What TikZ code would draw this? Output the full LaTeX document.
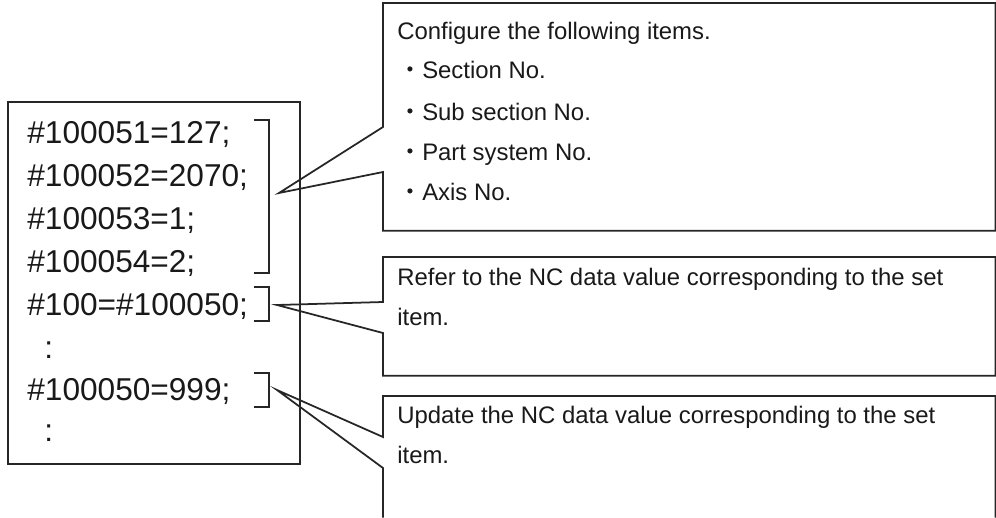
\documentclass[tikz,border=0pt]{standalone}
\usepackage{fontspec}
\setmainfont{Liberation Sans}
\newfontfamily\cjkfont{Noto Sans CJK JP}
\newcommand{\dotmark}{{\cjkfont ・}}
\usepackage{tikz}
\usetikzlibrary{positioning, calc}

\begin{document}
\begin{tikzpicture}[
        x=0.02cm, y=-0.02cm,
        code_box/.style={rectangle, draw=black!85, line width=1.1pt, inner sep=0pt,
                         anchor=north west, minimum width=5.84cm, minimum height=7.24cm},
        call_frame/.style={rectangle, draw=none, inner sep=0pt, anchor=north west, minimum width=12.24cm},
        call_line/.style={draw=black!85, line width=1pt, line join=miter},
        bracket_line/.style={draw=black!85, line width=1pt},
        code_txt/.style={anchor=base west, inner sep=0pt, font=\fontsize{18}{22}\selectfont, text=black!90},
        note_txt/.style={anchor=base west, inner sep=0pt, font=\fontsize{13.6}{16}\selectfont, text=black!90}
    ]
    \useasboundingbox (0,0) rectangle (996,517);

    \node[code_box] (prog) at (7,101) {};
    \node[code_txt] (l1) at (27,143) {\#100051=127;};
    \node[code_txt] (l2) at (27,186) {\#100052=2070;};
    \node[code_txt] (l3) at (27,229) {\#100053=1;};
    \node[code_txt] (l4) at (27,272) {\#100054=2;};
    \node[code_txt] (l5) at (27,315) {\#100=\#100050;};
    \node[code_txt] (l6) at (44,358) {:};
    \node[code_txt] (l7) at (27,400) {\#100050=999;};
    \node[code_txt] (l8) at (44,441) {:};

    \draw[bracket_line] (254,120) -| (269,273) -- (254,273);
    \draw[bracket_line] (254,287) -| (269,321) -- (254,321);
    \draw[bracket_line] (254,373) -| (269,407) -- (254,407);

    \coordinate (tip_set) at (279,193);
    \coordinate (tip_ref) at (277,305);
    \coordinate (tip_upd) at (277,390);

    \node[call_frame, minimum height=4.54cm] (cfg) at (383,3) {};
    \node[call_frame, minimum height=2.36cm] (ref) at (383,257) {};
    \node[call_frame, minimum height=2.42cm] (upd) at (383,396) {};

    \draw[call_line] (cfg.north east) -- (cfg.north west) -- ($(cfg.north west)+(0,124)$) -- (tip_set)
        -- ($(cfg.north west)+(0,169)$) -- (cfg.south west) -- (cfg.south east) -- cycle;
    \draw[call_line] (ref.north east) -- (ref.north west) -- ($(ref.north west)+(0,45)$) -- (tip_ref)
        -- ($(ref.north west)+(0,76)$) -- (ref.south west) -- (ref.south east) -- cycle;
    \draw[call_line] (upd.south west) -- ($(upd.north west)+(0,72)$) -- (tip_upd)
        -- ($(upd.north west)+(0,41)$) -- (upd.north west) -- (upd.north east) -- (upd.south east);

    \node[note_txt] (cfg_t) at (397,40) {Configure the following items.};
    \node[note_txt] (cfg_1) at (398,79) {\dotmark Section No.};
    \node[note_txt] (cfg_2) at (398,120) {\dotmark Sub section No.};
    \node[note_txt] (cfg_3) at (398,160) {\dotmark Part system No.};
    \node[note_txt] (cfg_4) at (398,200) {\dotmark Axis No.};

    \node[note_txt] (ref_t) at (397,285) {Refer to the NC data value corresponding to the set};
    \node[note_txt] (ref_2) at (397,325) {item.};
    \node[note_txt] (upd_t) at (397,423) {Update the NC data value corresponding to the set};
    \node[note_txt] (upd_2) at (397,463) {item.};
\end{tikzpicture}
\end{document}
